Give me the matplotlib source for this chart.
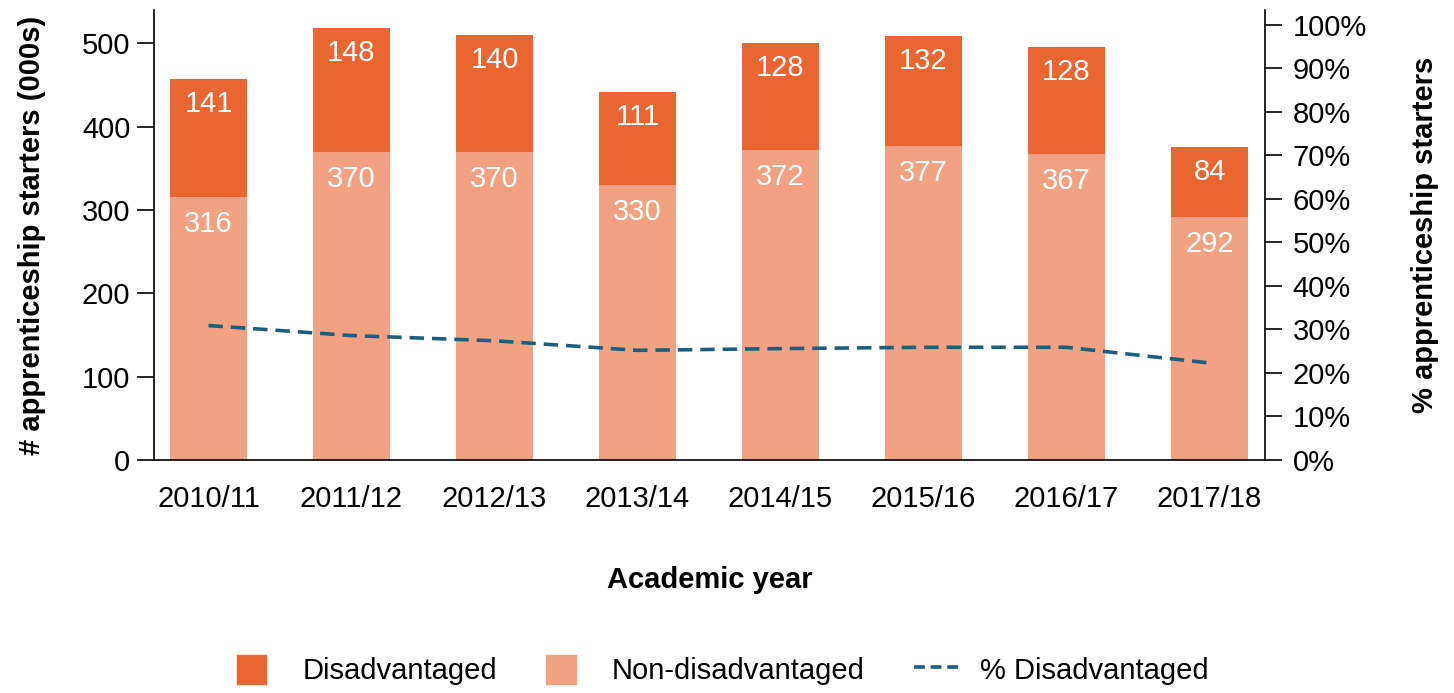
import matplotlib.pyplot as plt
from matplotlib.patches import Patch, Rectangle
from matplotlib.lines import Line2D
from matplotlib.legend_handler import HandlerPatch

plt.rcParams['font.family'] = ['Liberation Sans', 'DejaVu Sans']

years = ["2010/11", "2011/12", "2012/13", "2013/14", "2014/15", "2015/16", "2016/17", "2017/18"]
non_disadv = [316, 370, 370, 330, 372, 377, 367, 292]
disadv = [141, 148, 140, 111, 128, 132, 128, 84]
pct_disadv = [30.9, 28.6, 27.4, 25.2, 25.6, 25.9, 25.9, 22.3]

c_dark = "#E96531"
c_light = "#F2A283"
c_line = "#1B5E7E"
fs = 21

fig = plt.figure(figsize=(14.54, 6.93), dpi=100)
ax = fig.add_axes([0.1059, 0.3362, 0.7641, 0.6494])
x = list(range(len(years)))
w = 0.54

ax.bar(x, non_disadv, width=w, color=c_light)
ax.bar(x, disadv, width=w, bottom=non_disadv, color=c_dark)

for i in x:
    ax.annotate(str(non_disadv[i]), (i, non_disadv[i]), xytext=(0, -27), textcoords="offset pixels",
                ha="center", va="center", color="white", fontsize=fs)
    top = non_disadv[i] + disadv[i]
    ax.annotate(str(disadv[i]), (i, top), xytext=(0, -25), textcoords="offset pixels",
                ha="center", va="center", color="white", fontsize=fs)

ax.set_xlim(-0.381, 7.388)
ax.set_ylim(0, 540)
ax.set_yticks([0, 100, 200, 300, 400, 500])
ax.set_xticks(x)
ax.set_xticklabels(years)
ax.tick_params(axis="y", labelsize=fs, length=12, width=1.2, pad=5)
ax.tick_params(axis="x", labelsize=fs, length=0, pad=18)
ax.spines["top"].set_visible(False)
ax.spines["right"].set_visible(False)
for s in ["left", "bottom"]:
    ax.spines[s].set_linewidth(1.2)
ax.set_ylabel("# apprenticeship starters (000s)", fontsize=fs, fontweight="bold", labelpad=26)
ax.set_xlabel("Academic year", fontsize=fs, fontweight="bold", labelpad=38)

ax2 = ax.twinx()
ax2.plot(x, pct_disadv, color=c_line, lw=2.6, dashes=(4, 2.2))
ax2.set_ylim(0, 103.4)
ax2.set_yticks(range(0, 101, 10))
ax2.set_yticklabels([f"{v}%" for v in range(0, 101, 10)])
ax2.tick_params(axis="y", labelsize=fs, length=12, width=1.2, pad=8)
ax2.spines["top"].set_visible(False)
ax2.spines["left"].set_visible(False)
ax2.spines["right"].set_linewidth(1.2)
ax2.spines["bottom"].set_visible(False)
ax2.set_ylabel("% apprenticeship starters", fontsize=fs, fontweight="bold", labelpad=32)


def narrow_patch(legend, orig_handle, xdescent, ydescent, width, height, fontsize):
    pw = width * 0.66
    return Rectangle((-xdescent, -ydescent), pw, height)


handles = [Patch(color=c_dark, label="Disadvantaged"),
           Patch(color=c_light, label="Non-disadvantaged"),
           Line2D([0], [0], color=c_line, lw=2.6, dashes=(3, 1.6), label="% Disadvantaged")]
fig.legend(handles=handles, loc="center", bbox_to_anchor=(0.497, 0.033), ncol=3, frameon=False,
           fontsize=fs, handlelength=1.55, handleheight=1.15, columnspacing=1.7, handletextpad=0.7,
           handler_map={Patch: HandlerPatch(patch_func=narrow_patch)})

fig.savefig("out.png", dpi=100)
